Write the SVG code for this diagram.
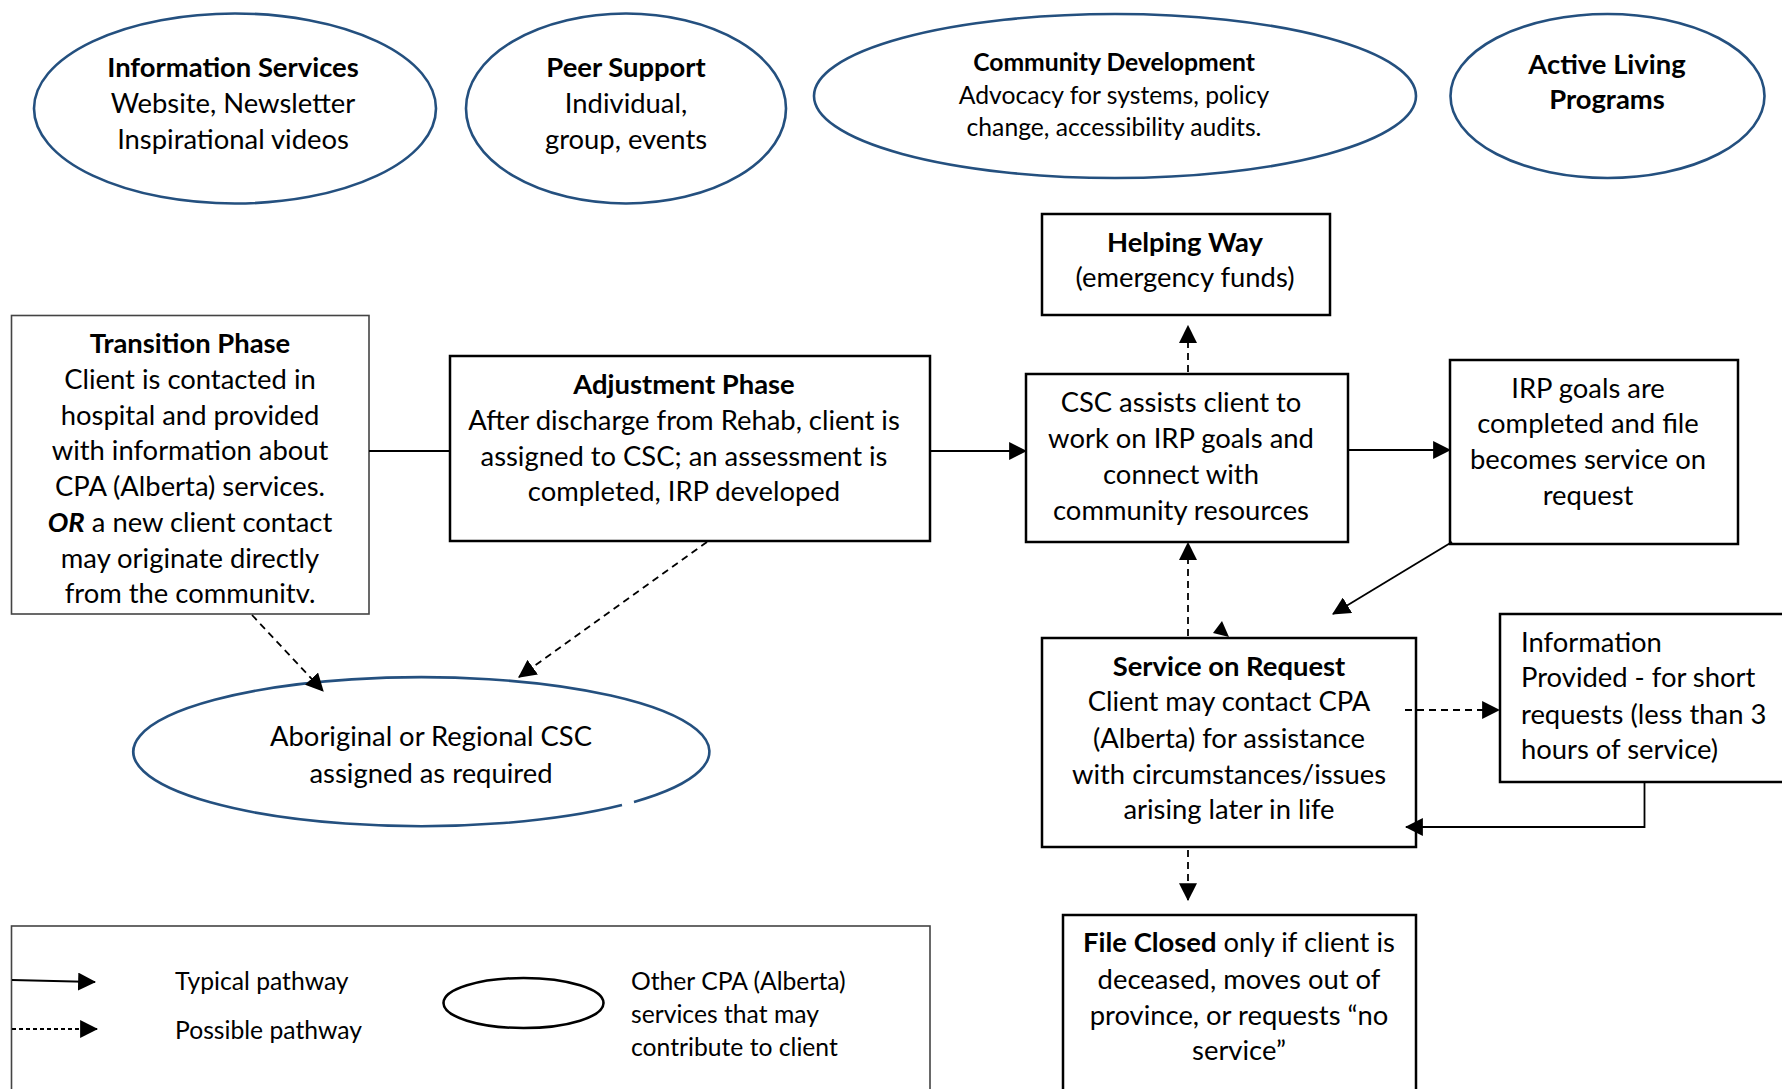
<svg xmlns="http://www.w3.org/2000/svg" width="1782" height="1089" viewBox="0 0 1782 1089">
<style>
text{font-family:Lato,"Liberation Sans",sans-serif;fill:#000;font-size:27.4px}
.c{text-anchor:middle}
.b{font-weight:bold}
.s{font-size:24.7px}
.ov{fill:#fff;stroke:#24507f;stroke-width:2.6}
.bx{fill:#fff;stroke:#000;stroke-width:2.5}
.thin{fill:#fff;stroke:#444;stroke-width:1.6}
.ln{fill:none;stroke:#000;stroke-width:1.8}
.d{stroke-dasharray:7 5}
</style>
<defs>
<marker id="ah" markerUnits="userSpaceOnUse" markerWidth="18" markerHeight="18" viewBox="0 0 16 16" refX="15" refY="8" orient="auto">
<path d="M0,0 L16,8 L0,16 Z" fill="#000"/>
</marker>
</defs>
<rect width="1782" height="1089" fill="#fff"/>

<g id="info-services">
<ellipse class="ov" cx="235" cy="108.5" rx="201" ry="95"/>
<text class="c b" x="233" y="77">Information Services</text>
<text class="c" x="233" y="113">Website, Newsletter</text>
<text class="c" x="233" y="149">Inspirational videos</text>
</g>
<g id="peer-support">
<ellipse class="ov" cx="626" cy="108.5" rx="160" ry="95"/>
<text class="c b" x="626" y="77">Peer Support</text>
<text class="c" x="626" y="113">Individual,</text>
<text class="c" x="626" y="149">group, events</text>
</g>
<g id="community-development">
<ellipse class="ov" cx="1115" cy="96" rx="301" ry="82"/>
<text class="c b s" x="1114" y="71">Community Development</text>
<text class="c s" x="1114" y="104">Advocacy for systems, policy</text>
<text class="c s" x="1114" y="136">change, accessibility audits.</text>
</g>
<g id="active-living">
<ellipse class="ov" cx="1607.5" cy="96" rx="157" ry="82"/>
<text class="c b" x="1607" y="74">Active Living</text>
<text class="c b" x="1607" y="109">Programs</text>
</g>

<g id="helping-way">
<rect class="bx" x="1042" y="214" width="288" height="101"/>
<text class="c b" x="1185" y="252">Helping Way</text>
<text class="c" x="1185" y="287">(emergency funds)</text>
</g>
<g id="transition-phase">
<rect class="thin" x="11.5" y="315.5" width="357.5" height="298.5"/>
<text class="c b" x="190" y="353">Transition Phase</text>
<text class="c" x="190" y="389">Client is contacted in</text>
<text class="c" x="190" y="425">hospital and provided</text>
<text class="c" x="190" y="460">with information about</text>
<text class="c" x="190" y="496">CPA (Alberta) services.</text>
<text class="c" x="190" y="532"><tspan class="b" font-style="italic">OR</tspan> a new client contact</text>
<text class="c" x="190" y="568">may originate directly</text>
<text class="c" x="190" y="603">from the communitv.</text>
</g>
<g id="adjustment-phase">
<rect class="bx" x="450" y="356" width="480" height="185" stroke-width="3"/>
<text class="c b" x="684" y="394">Adjustment Phase</text>
<text class="c" x="684" y="430">After discharge from Rehab, client is</text>
<text class="c" x="684" y="466">assigned to CSC; an assessment is</text>
<text class="c" x="684" y="501">completed, IRP developed</text>
</g>
<g id="csc-assists">
<rect class="bx" x="1026" y="374" width="322" height="168"/>
<text class="c" x="1181" y="412">CSC assists client to</text>
<text class="c" x="1181" y="448">work on IRP goals and</text>
<text class="c" x="1181" y="484">connect with</text>
<text class="c" x="1181" y="520">community resources</text>
</g>
<g id="irp-goals">
<rect class="bx" x="1450" y="360" width="288" height="184" stroke-width="2"/>
<text class="c" x="1588" y="398">IRP goals are</text>
<text class="c" x="1588" y="433">completed and file</text>
<text class="c" x="1588" y="469">becomes service on</text>
<text class="c" x="1588" y="505">request</text>
</g>
<g id="service-on-request">
<rect class="bx" x="1042" y="638" width="374" height="209"/>
<text class="c b" x="1229" y="676">Service on Request</text>
<text class="c" x="1229" y="711">Client may contact CPA</text>
<text class="c" x="1229" y="748">(Alberta) for assistance</text>
<text class="c" x="1229" y="784">with circumstances/issues</text>
<text class="c" x="1229" y="819">arising later in life</text>
</g>
<g id="information-provided">
<rect class="bx" x="1500" y="614" width="300" height="168"/>
<text x="1521" y="652">Information</text>
<text x="1521" y="687">Provided - for short</text>
<text x="1521" y="724">requests (less than 3</text>
<text x="1521" y="759">hours of service)</text>
</g>
<g id="file-closed">
<rect class="bx" x="1063" y="915" width="353" height="200" stroke-width="2"/>
<text class="c" x="1239" y="952"><tspan class="b">File Closed</tspan> only if client is</text>
<text class="c" x="1239" y="989">deceased, moves out of</text>
<text class="c" x="1239" y="1025">province, or requests “no</text>
<text class="c" x="1239" y="1060">service”</text>
</g>
<g id="aboriginal-csc">
<path class="ov" fill="none" d="M634,801.9 A288,74.5 0 1 0 622,805.1"/>
<text class="c" x="431" y="746">Aboriginal or Regional CSC</text>
<text class="c" x="431" y="783">assigned as required</text>
</g>

<g id="legend">
<rect class="thin" x="11.5" y="926" width="918.5" height="200" stroke="#555"/>
<path class="ln" d="M12,980 L95,982" marker-end="url(#ah)"/>
<path class="ln" d="M12,1029 L97,1029" stroke-dasharray="4 3" marker-end="url(#ah)"/>
<text class="s" x="175" y="990">Typical pathway</text>
<text class="s" x="175" y="1039">Possible pathway</text>
<ellipse cx="523.5" cy="1003" rx="80" ry="25" fill="none" stroke="#000" stroke-width="2.6"/>
<text class="s" x="631" y="990">Other CPA (Alberta)</text>
<text class="s" x="631" y="1023">services that may</text>
<text class="s" x="631" y="1056">contribute to client</text>
</g>

<g id="connectors">
<path class="ln" d="M369,451 L450,451"/>
<path class="ln" d="M930,451 L1026,451" marker-end="url(#ah)"/>
<path class="ln d" d="M1188,372 L1188,326" marker-end="url(#ah)"/>
<path class="ln" d="M1348,450 L1450,450" marker-end="url(#ah)"/>
<path class="ln" d="M1452,542 L1333,614" marker-end="url(#ah)"/>
<path class="ln d" d="M1188,636 L1188,543" marker-end="url(#ah)"/>
<polygon points="1213,633 1222,621 1229,637" fill="#000"/>
<path class="ln d" d="M1405,710 L1499,710" marker-end="url(#ah)"/>
<path class="ln" d="M1644.5,782 L1644.5,827 L1406,827" marker-end="url(#ah)"/>
<path class="ln d" d="M1188,850 L1188,900" marker-end="url(#ah)"/>
<path class="ln d" d="M252,615 L323,691" marker-end="url(#ah)"/>
<path class="ln d" d="M707,542 L519,677" marker-end="url(#ah)"/>
</g>
</svg>
